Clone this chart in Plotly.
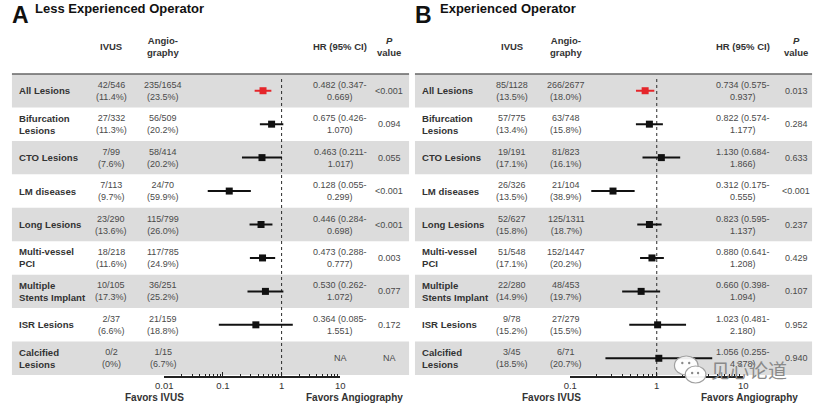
import plotly.graph_objects as go

W, H = 821, 406

# ---------------- data ----------------
labels = ["All Lesions", "Bifurcation<br>Lesions", "CTO Lesions", "LM diseases", "Long Lesions",
          "Multi-vessel<br>PCI", "Multiple<br>Stents Implant", "ISR Lesions", "Calcified<br>Lesions"]

ivus_A = ["42/546", "27/332", "7/99", "7/113", "23/290", "18/218", "10/105", "2/37", "0/2"]
ivus_pct_A = ["11.4%", "11.3%", "7.6%", "9.7%", "13.6%", "11.6%", "17.3%", "6.6%", "0%"]
angio_A = ["235/1654", "56/509", "58/414", "24/70", "115/799", "117/785", "36/251", "21/159", "1/15"]
angio_pct_A = ["23.5%", "20.2%", "20.2%", "59.9%", "26.0%", "24.9%", "25.2%", "18.8%", "6.7%"]
hr_A = [0.482, 0.675, 0.463, 0.128, 0.446, 0.473, 0.530, 0.364, None]
lo_A = [0.347, 0.426, 0.211, 0.055, 0.284, 0.288, 0.262, 0.085, None]
hi_A = [0.669, 1.070, 1.017, 0.299, 0.698, 0.777, 1.072, 1.551, None]
p_A = ["<0.001", "0.094", "0.055", "<0.001", "<0.001", "0.003", "0.077", "0.172", "NA"]

ivus_B = ["85/1128", "57/775", "19/191", "26/326", "52/627", "51/548", "22/280", "9/78", "3/45"]
ivus_pct_B = ["13.5%", "13.4%", "17.1%", "13.5%", "15.8%", "17.1%", "14.9%", "15.2%", "18.5%"]
angio_B = ["266/2677", "63/748", "81/823", "21/104", "125/1311", "152/1447", "48/453", "27/279", "6/71"]
angio_pct_B = ["18.0%", "15.8%", "16.1%", "38.9%", "18.7%", "20.2%", "19.7%", "15.5%", "20.7%"]
hr_B = [0.734, 0.822, 1.130, 0.312, 0.823, 0.880, 0.660, 1.023, 1.056]
lo_B = [0.575, 0.574, 0.684, 0.175, 0.595, 0.641, 0.398, 0.481, 0.255]
hi_B = [0.937, 1.177, 1.866, 0.555, 1.137, 1.208, 1.094, 2.180, 4.378]
p_B = ["0.013", "0.284", "0.633", "<0.001", "0.237", "0.429", "0.107", "0.952", "0.940"]

tickvals_A = [0.01, 0.1, 1, 10]
ticktext_A = ["0.01", "0.1", "1", "10"]
tickvals_B = [0.1, 1, 10]
ticktext_B = ["0.1", "1", "10"]

# ---------------- layout helpers ----------------
FONT = "Liberation Sans, Arial, sans-serif"
TXT = "#4a4a4a"
DARK = "#2b2b2b"
RED = "#e5262b"
BAND = "#dcdcdc"

TOP, BOT = 74, 375          # pixel extent of the table rows
AXLINE = 376
n = len(labels)


def px(x):
    return x / W


def py(y):
    return 1 - y / H


fig = go.Figure()

panels = [
    dict(xa="x", off=0, lab=ivus_A, labp=ivus_pct_A, an=angio_A, anp=angio_pct_A, hr=hr_A, lo=lo_A, hi=hi_A,
         p=p_A, cols=dict(lab=8, ivus=104, ang=157, hr=337, p=387), band=(3, 407),
         letter="A", title="Less Experienced Operator", tx=24, fav=(148, 351)),
    dict(xa="x2", off=410, lab=ivus_B, labp=ivus_pct_B, an=angio_B, anp=angio_pct_B, hr=hr_B, lo=lo_B, hi=hi_B,
         p=p_B, cols=dict(lab=418, ivus=512, ang=567, hr=747, p=801), band=(413, 817),
         letter="B", title="Experienced Operator", tx=436, fav=(552, 753)),
]

shapes = []
annotations = []

for P in panels:
    c = P["cols"]
    # row bands
    for i in range(0, n, 2):
        shapes.append(dict(type="rect", xref="paper", yref="y", x0=px(P["band"][0]), x1=px(P["band"][1]),
                           y0=i - 0.5, y1=i + 0.5, fillcolor=BAND, line=dict(width=0), layer="below"))
    shapes.append(dict(type="line", xref="paper", yref="paper", x0=px(P["band"][0]), x1=px(P["band"][1]),
                       y0=py(TOP), y1=py(TOP), line=dict(color="#666666", width=1.5), layer="below"))
    # reference line at HR = 1
    shapes.append(dict(type="line", xref=P["xa"], yref="paper", x0=1, x1=1, y0=py(AXLINE), y1=py(78),
                       line=dict(color=DARK, width=1, dash="dot"), layer="below"))

    # titles
    annotations.append(dict(text="<b>" + P["letter"] + "</b>", x=px(P["off"] + 1), y=py(15), xref="paper",
                            yref="paper", xanchor="left", yanchor="middle", showarrow=False,
                            font=dict(family=FONT, size=23, color="#111111")))
    annotations.append(dict(text="<b>" + P["title"] + "</b>", x=px(P["tx"]),
                            y=py(8.5), xref="paper", yref="paper", xanchor="left", yanchor="middle",
                            showarrow=False, font=dict(family=FONT, size=13, color="#111111")))
    # headers
    hdr = [("<b>IVUS</b>", c["ivus"]), ("<b>Angio-<br>graphy</b>", c["ang"]),
           ("<b>HR (95% CI)</b>", c["hr"]), ("<b><i>P</i><br>value</b>", c["p"])]
    for t, x in hdr:
        annotations.append(dict(text=t, x=px(x), y=py(46.5), xref="paper", yref="paper", xanchor="center",
                                yanchor="middle", showarrow=False,
                                font=dict(family=FONT, size=9.5, color="#333333")))
    # rows
    for i in range(n):
        annotations.append(dict(text="<b>" + labels[i] + "</b>", x=px(c["lab"]), y=i, xref="paper", yref="y",
                                xanchor="left", yanchor="middle", align="left", showarrow=False,
                                font=dict(family=FONT, size=9.6, color="#333333")))
        annotations.append(dict(text=P["lab"][i] + "<br>(" + P["labp"][i] + ")", x=px(c["ivus"]), y=i,
                                xref="paper", yref="y", xanchor="center", yanchor="middle", showarrow=False,
                                font=dict(family=FONT, size=9, color=TXT)))
        annotations.append(dict(text=P["an"][i] + "<br>(" + P["anp"][i] + ")", x=px(c["ang"]), y=i,
                                xref="paper", yref="y", xanchor="center", yanchor="middle", showarrow=False,
                                font=dict(family=FONT, size=9, color=TXT)))
        if P["hr"][i] is None:
            hrtxt = "NA"
        else:
            hrtxt = "%.3f (%.3f-<br>%.3f)" % (P["hr"][i], P["lo"][i], P["hi"][i])
        annotations.append(dict(text=hrtxt, x=px(c["hr"]), y=i, xref="paper", yref="y", xanchor="center",
                                yanchor="middle", showarrow=False, font=dict(family=FONT, size=9, color=TXT)))
        annotations.append(dict(text=P["p"][i], x=px(c["p"]), y=i, xref="paper", yref="y", xanchor="center",
                                yanchor="middle", showarrow=False, font=dict(family=FONT, size=9, color=TXT)))
    # favors labels
    annotations.append(dict(text="<b>Favors IVUS</b>", x=px(P["fav"][0]), y=py(397.5), xref="paper",
                            yref="paper", xanchor="center", yanchor="middle", showarrow=False,
                            font=dict(family=FONT, size=10, color="#333333")))
    annotations.append(dict(text="<b>Favors Angiography</b>", x=px(P["fav"][1]), y=py(397.5), xref="paper",
                            yref="paper", xanchor="center", yanchor="middle", showarrow=False,
                            font=dict(family=FONT, size=10, color="#333333")))

    # CI lines and markers
    rows = [i for i in range(n) if P["hr"][i] is not None]
    for group, color in ((rows[:1], RED), (rows[1:], "#111111")):
        xs, ys = [], []
        for i in group:
            xs += [P["lo"][i], P["hi"][i], None]
            ys += [i, i, None]
        fig.add_trace(go.Scatter(x=xs, y=ys, xaxis=P["xa"], yaxis="y", mode="lines",
                                 line=dict(color=color, width=2), showlegend=False, hoverinfo="skip"))
        fig.add_trace(go.Scatter(x=[P["hr"][i] for i in group], y=group, xaxis=P["xa"], yaxis="y",
                                 mode="markers", marker=dict(symbol="square", size=7, color=color),
                                 showlegend=False, cliponaxis=False))

# watermark (WeChat logo + text)
shapes.append(dict(type="circle", xref="paper", yref="paper", x0=px(677), x1=px(701), y0=py(375), y1=py(356),
                   fillcolor="rgba(255,255,255,0.92)", line=dict(color="#a0a0a0", width=1.2)))
shapes.append(dict(type="circle", xref="paper", yref="paper", x0=px(688), x1=px(709), y0=py(383), y1=py(366),
                   fillcolor="rgba(255,255,255,0.95)", line=dict(color="#a0a0a0", width=1.2)))
for (cx, cy) in ((685, 363), (692, 363), (695, 373), (701, 373)):
    shapes.append(dict(type="circle", xref="paper", yref="paper", x0=px(cx - 1.2), x1=px(cx + 1.2),
                       y0=py(cy + 1.2), y1=py(cy - 1.2), fillcolor="#888888", line=dict(width=0)))
annotations.append(dict(text="见心论道", x=px(753), y=py(369), xref="paper", yref="paper", xanchor="center",
                        yanchor="middle", showarrow=False,
                        font=dict(family="Noto Sans CJK SC", size=19, color="#8a8a8a")))

minor_A = [m * 10 ** e for e in (-2, -1, 0) for m in range(2, 10)]
minor_B = [m * 10 ** e for e in (-1, 0) for m in range(2, 10)]

axis_common = dict(type="log", showgrid=False, zeroline=False, showline=True, linecolor="#222222",
                   linewidth=1.5, ticks="inside", ticklen=4, tickwidth=1.2, tickcolor="#222222",
                   tickfont=dict(family=FONT, size=9.5, color="#333333"), anchor="y", tickmode="array")

fig.update_layout(
    width=W, height=H, margin=dict(l=0, r=0, t=0, b=0),
    paper_bgcolor="white", plot_bgcolor="rgba(0,0,0,0)",
    xaxis=dict(domain=[px(158), px(337)], range=[-2, 1], tickvals=tickvals_A, ticktext=ticktext_A,
               minor=dict(tickmode="array", tickvals=minor_A, ticks="inside", ticklen=2.5, tickcolor="#222222",
                          showgrid=False), **axis_common),
    xaxis2=dict(domain=[px(571), px(747)], range=[-1, 1], tickvals=tickvals_B, ticktext=ticktext_B,
                minor=dict(tickmode="array", tickvals=minor_B, ticks="inside", ticklen=2.5, tickcolor="#222222",
                           showgrid=False), **axis_common),
    yaxis=dict(domain=[py(AXLINE), py(TOP)], range=[n - 0.5 + 1 / 33.4, -0.5], visible=False),
    shapes=shapes, annotations=annotations,
)

fig.write_html("out.html")
